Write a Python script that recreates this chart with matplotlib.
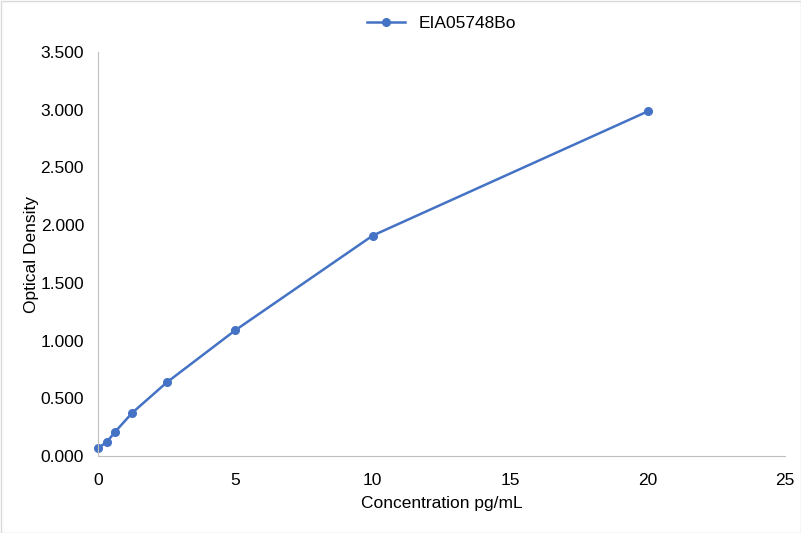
import matplotlib
matplotlib.use("Agg")
import matplotlib.pyplot as plt
from matplotlib.patches import Rectangle

conc = [0, 0.313, 0.625, 1.25, 2.5, 5, 10, 20]
od = [0.069, 0.119, 0.210, 0.375, 0.637, 1.090, 1.910, 2.985]
series_name = "EIA05748Bo"
xlabel = "Concentration pg/mL"
ylabel = "Optical Density"

plt.rcParams['font.family'] = ['Liberation Sans', 'DejaVu Sans']
fig = plt.figure(figsize=(8.01, 5.33), dpi=100)
fig.patches.append(Rectangle((0.5/801, 0.5/533), 1-1/801, 1-1/533, transform=fig.transFigure,
                             fill=False, edgecolor='#D9D9D9', lw=1))
ax = fig.add_axes([98/801, 1-456/533, (785-98)/801, (456-52)/533])
color = "#4472C4"
ax.plot(conc, od, color=color, lw=1.8, marker='o', ms=5.5, label=series_name, clip_on=False)
ax.set_xlim(0, 25)
ax.set_ylim(0, 3.5)
ax.set_xticks([0, 5, 10, 15, 20, 25])
ax.set_yticks([0, 0.5, 1.0, 1.5, 2.0, 2.5, 3.0, 3.5])
ax.set_yticklabels([f"{v:.3f}" for v in [0, 0.5, 1.0, 1.5, 2.0, 2.5, 3.0, 3.5]])
for s in ['top', 'right']:
    ax.spines[s].set_visible(False)
for s in ['left', 'bottom']:
    ax.spines[s].set_color('#BFBFBF')
ax.tick_params(axis='both', length=0, labelsize=12.5, colors='black')
ax.tick_params(axis='y', pad=10)
ax.tick_params(axis='x', pad=12)
ax.set_xlabel(xlabel, fontsize=12.5, color='black', labelpad=6)
ax.set_ylabel(ylabel, fontsize=12.5, color='black', labelpad=1)
ax.legend(loc='upper center', bbox_to_anchor=(0.5, 1+52/404), frameon=False, fontsize=12.5,
          handlelength=2.2, labelcolor='black')
fig.savefig("out.png", dpi=100)
